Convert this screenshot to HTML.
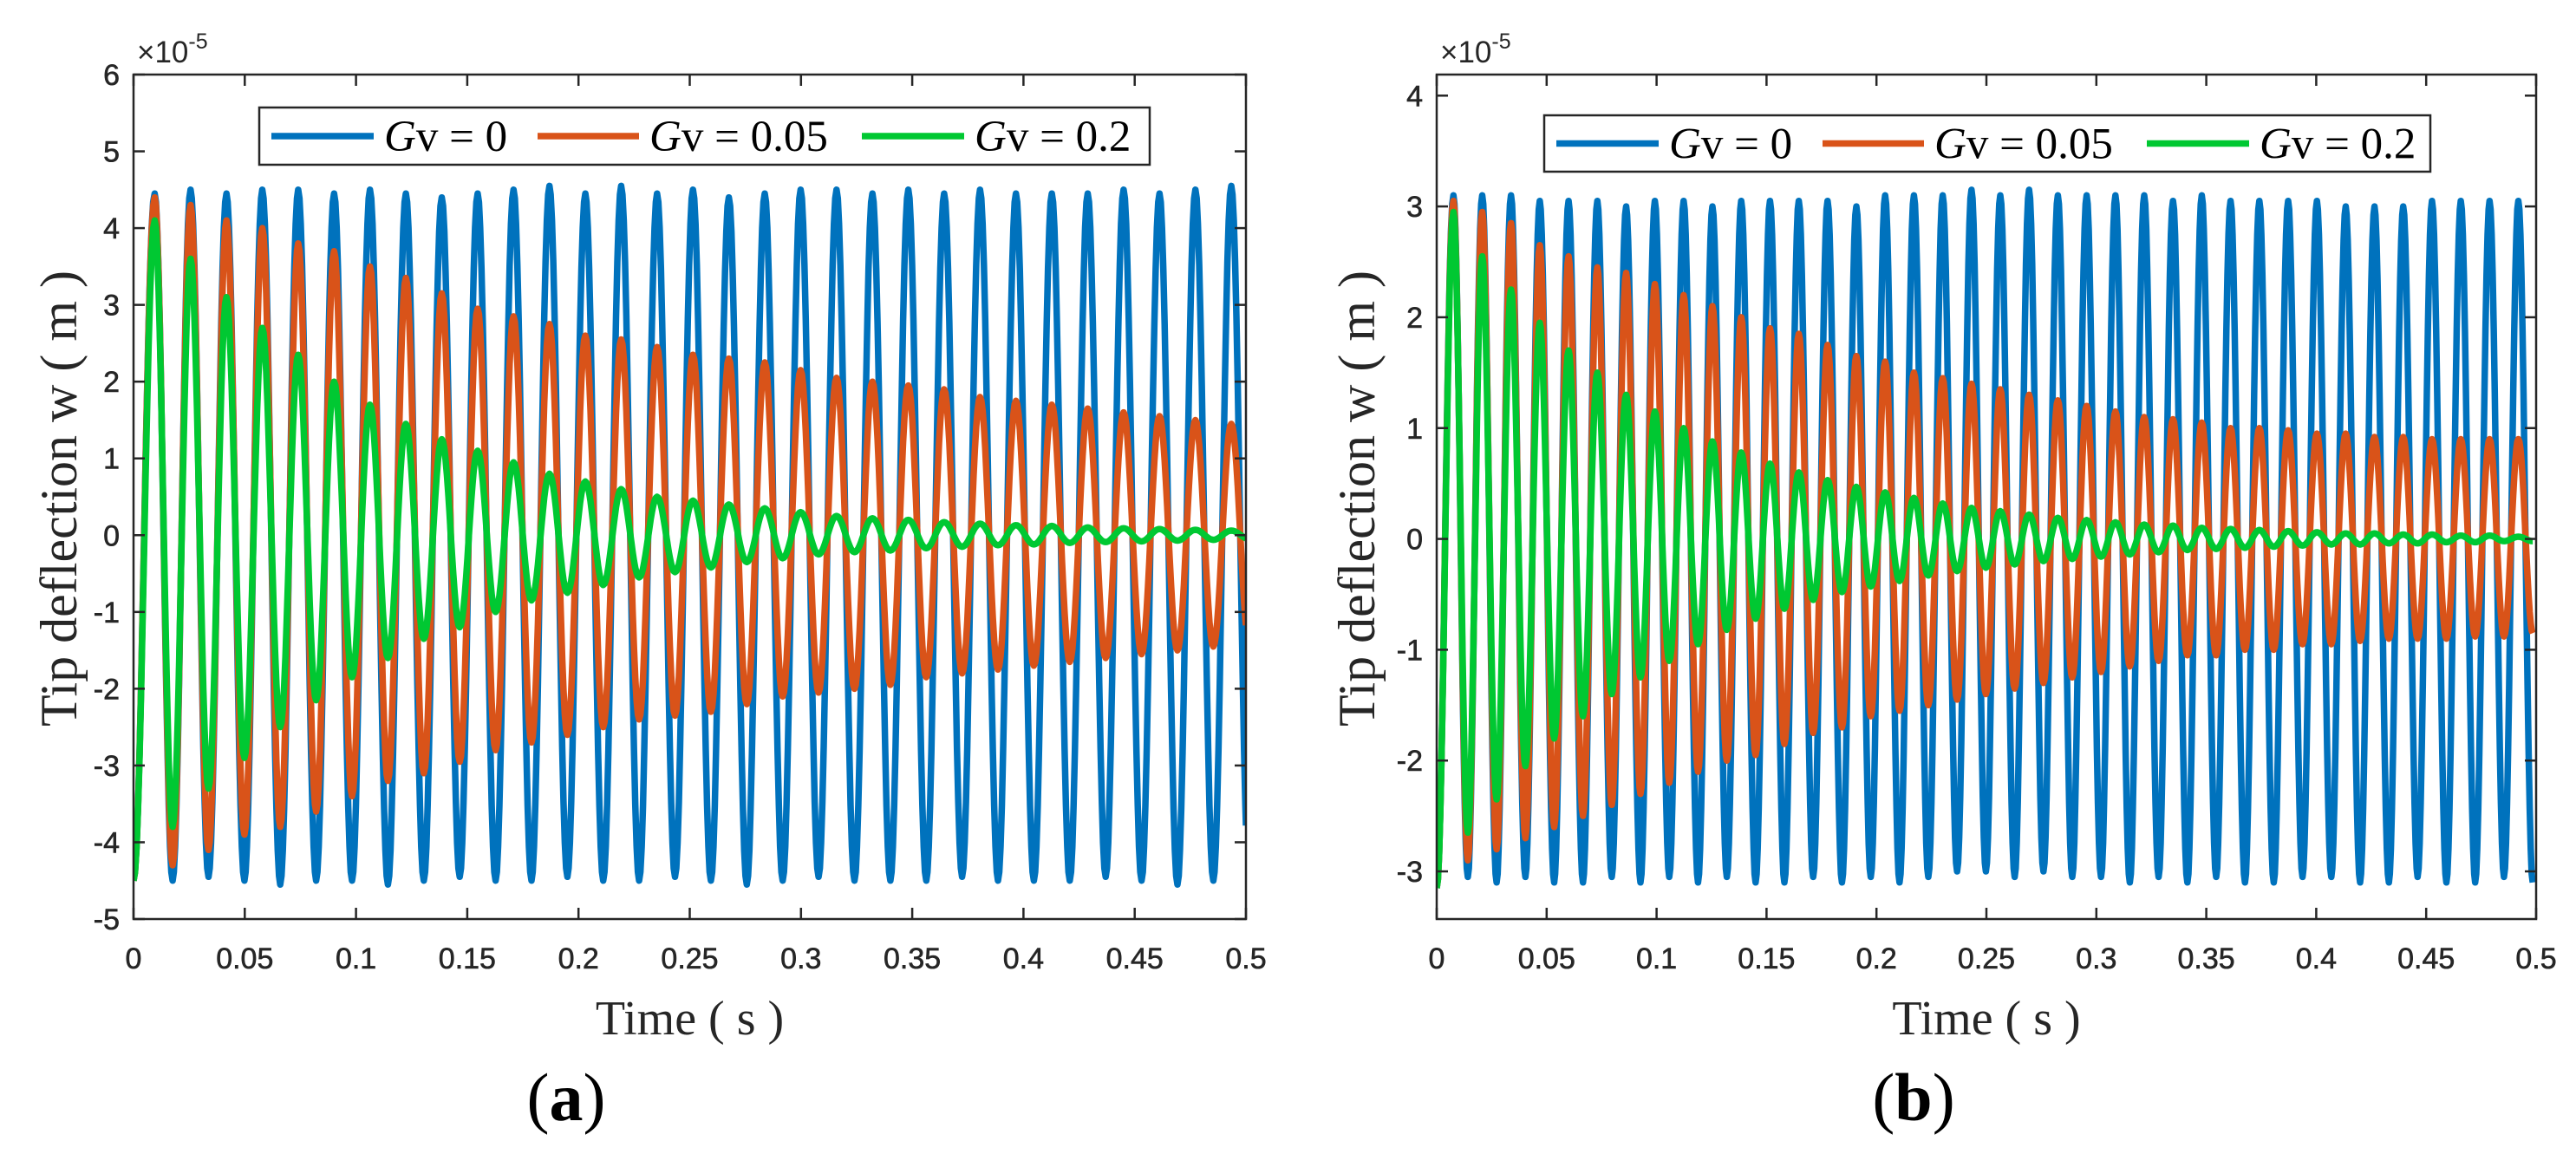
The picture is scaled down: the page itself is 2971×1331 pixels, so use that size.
<!DOCTYPE html>
<html><head><meta charset="utf-8"><style>
html,body{margin:0;padding:0;background:#fff;}
svg{display:block;}
</style></head><body>
<svg id="fig" width="2971" height="1331" viewBox="0 0 2971 1331" xmlns="http://www.w3.org/2000/svg"></svg>
<script>
// ---- Panel (a) data ----
const xTicksA = [0,0.05,0.1,0.15,0.2,0.25,0.3,0.35,0.4,0.45,0.5];
const xTickLabelsA = ["0","0.05","0.1","0.15","0.2","0.25","0.3","0.35","0.4","0.45","0.5"];
const yTicksA = [-5,-4,-3,-2,-1,0,1,2,3,4,5,6];
const periodA = 0.01613;
const firstPeakA = 0.0095;
const startA = [-4.5,-4.5,-4.5];
const blueA_peaks = [4.45,4.5,4.45,4.5,4.5,4.45,4.5,4.45,4.4,4.45,4.5,4.55,4.45,4.55,4.45,4.5,4.4,4.45,4.5,4.5,4.45,4.5,4.45,4.5,4.45,4.45,4.45,4.5,4.45,4.5,4.55];
const blueA_troughs = [-4.5,-4.45,-4.5,-4.55,-4.5,-4.5,-4.55,-4.5,-4.45,-4.5,-4.5,-4.45,-4.5,-4.5,-4.45,-4.5,-4.55,-4.5,-4.45,-4.5,-4.5,-4.5,-4.45,-4.5,-4.5,-4.5,-4.45,-4.5,-4.55,-4.5,-4.5];
const orangeA_peaks = [4.4,4.3,4.1,4.0,3.8,3.7,3.5,3.35,3.15,2.95,2.85,2.75,2.6,2.55,2.45,2.35,2.3,2.25,2.15,2.05,2.0,1.95,1.9,1.8,1.75,1.7,1.65,1.6,1.55,1.5,1.45];
const orangeA_troughs = [-4.3,-4.1,-3.9,-3.8,-3.6,-3.4,-3.2,-3.1,-2.95,-2.8,-2.7,-2.6,-2.5,-2.4,-2.35,-2.3,-2.2,-2.1,-2.05,-2.0,-1.95,-1.85,-1.8,-1.75,-1.7,-1.65,-1.6,-1.55,-1.5,-1.45,-1.4];
const greenA_peaks = [4.1,3.6,3.1,2.7,2.35,2.0,1.7,1.45,1.25,1.1,0.95,0.8,0.7,0.6,0.5,0.45,0.4,0.35,0.3,0.25,0.22,0.2,0.17,0.15,0.13,0.12,0.1,0.09,0.08,0.07,0.06];
const greenA_troughs = [-3.8,-3.3,-2.9,-2.5,-2.15,-1.85,-1.6,-1.35,-1.2,-1.0,-0.85,-0.75,-0.65,-0.55,-0.48,-0.42,-0.35,-0.3,-0.25,-0.22,-0.2,-0.17,-0.15,-0.13,-0.12,-0.1,-0.09,-0.08,-0.07,-0.06,-0.05];

// ---- Panel (b) data ----
const xTicksB = [0,0.05,0.1,0.15,0.2,0.25,0.3,0.35,0.4,0.45,0.5];
const xTickLabelsB = ["0","0.05","0.1","0.15","0.2","0.25","0.3","0.35","0.4","0.45","0.5"];
const yTicksB = [-3,-2,-1,0,1,2,3,4];
const periodB = 0.01309;
const firstPeakB = 0.0076;
const startB = [-3.15,-3.15,-3.15];
const blueB_peaks = [3.1,3.1,3.1,3.05,3.05,3.05,3.0,3.05,3.05,3.0,3.05,3.05,3.05,3.05,3.0,3.1,3.1,3.1,3.15,3.1,3.15,3.1,3.1,3.1,3.1,3.05,3.1,3.05,3.05,3.05,3.05,3.0,3.0,3.0,3.05,3.05,3.05,3.05];
const blueB_troughs = [-3.05,-3.1,-3.05,-3.1,-3.1,-3.05,-3.1,-3.05,-3.1,-3.05,-3.1,-3.1,-3.05,-3.1,-3.05,-3.1,-3.05,-3.0,-3.0,-3.05,-3.0,-3.05,-3.05,-3.1,-3.05,-3.1,-3.05,-3.1,-3.1,-3.05,-3.05,-3.1,-3.1,-3.05,-3.1,-3.1,-3.05,-3.1];
const orangeB_peaks = [3.05,2.95,2.85,2.65,2.55,2.45,2.4,2.3,2.2,2.1,2.0,1.9,1.85,1.75,1.65,1.6,1.5,1.45,1.4,1.35,1.3,1.25,1.2,1.15,1.1,1.08,1.05,1.0,1.0,0.98,0.95,0.95,0.92,0.92,0.9,0.9,0.9,0.9];
const orangeB_troughs = [-2.9,-2.8,-2.7,-2.6,-2.5,-2.4,-2.3,-2.2,-2.1,-2.0,-1.95,-1.85,-1.75,-1.7,-1.6,-1.55,-1.5,-1.45,-1.4,-1.35,-1.3,-1.25,-1.2,-1.15,-1.1,-1.05,-1.05,-1.0,-1.0,-0.95,-0.95,-0.92,-0.9,-0.9,-0.9,-0.88,-0.88,-0.85];
const greenB_peaks = [2.95,2.55,2.25,1.95,1.7,1.5,1.3,1.15,1.0,0.88,0.78,0.68,0.6,0.53,0.47,0.42,0.37,0.32,0.28,0.25,0.22,0.19,0.17,0.15,0.13,0.12,0.1,0.09,0.08,0.07,0.06,0.05,0.05,0.04,0.04,0.03,0.03,0.02];
const greenB_troughs = [-2.65,-2.35,-2.05,-1.8,-1.6,-1.4,-1.25,-1.1,-0.95,-0.82,-0.72,-0.63,-0.55,-0.48,-0.43,-0.38,-0.33,-0.29,-0.26,-0.23,-0.2,-0.18,-0.16,-0.14,-0.12,-0.1,-0.09,-0.08,-0.07,-0.06,-0.05,-0.05,-0.04,-0.04,-0.03,-0.03,-0.02,-0.02];

const seriesNames = ["Gv = 0","Gv = 0.05","Gv = 0.2"];
const seriesValues = ["0","0.05","0.2"];
const colors = ["#0072BD","#D95319","#00C832"];

const NS = "http://www.w3.org/2000/svg";
const svg = document.getElementById("fig");
function mk(tag, attrs, parent){
  const e = document.createElementNS(NS, tag);
  for (const k in attrs) e.setAttribute(k, attrs[k]);
  (parent||svg).appendChild(e);
  return e;
}

function buildPath(sx, sy, start, firstPeak, period, peaks, troughs, tEnd){
  const ext = [[0, start]];
  for (let k=0;k<peaks.length;k++){
    ext.push([firstPeak + k*period, peaks[k]]);
    if (k < troughs.length) ext.push([firstPeak + (k+0.5)*period, troughs[k]]);
  }
  let d = "M" + sx(0).toFixed(1) + " " + sy(start).toFixed(1);
  for (let i=0;i<ext.length-1;i++){
    const [t0,v0] = ext[i], [t1,v1] = ext[i+1];
    const N = 14;
    let stop = false;
    for (let j=1;j<=N;j++){
      let t = t0 + (t1-t0)*j/N;
      if (t > tEnd){ t = tEnd; stop = true; }
      const ff = (t-t0)/(t1-t0);
      const v = v0 + (v1-v0)*(1-Math.cos(Math.PI*ff))/2;
      d += "L" + sx(t).toFixed(1) + " " + sy(v).toFixed(1);
      if (stop) break;
    }
    if (stop) break;
  }
  return d;
}

function panel(cfg){
  const g = mk("g", {});
  
  
  const {L,R,T,B,ymin,ymax} = cfg;
  const sx = t => L + (t-0)/(0.5-0)*(R-L);
  const sy = v => B - (v-ymin)/(ymax-ymin)*(B-T);
  mk("rect",{x:L,y:T,width:R-L,height:B-T,fill:"#fff"},g);
  const clipId = cfg.name+"-clip";
  const cp = mk("clipPath",{id:clipId},g);
  mk("rect",{x:L,y:T,width:R-L,height:B-T},cp);
  const lines = mk("g",{"clip-path":"url(#"+clipId+")"},g);
  cfg.series.forEach((s,i)=>{
    const p = mk("path",{d:buildPath(sx,sy,cfg.start[i],cfg.firstPeak,cfg.period,s[0],s[1],0.5),fill:"none",stroke:colors[i],"stroke-width":7.5,"stroke-linejoin":"round"},lines);
    
    
  });
  const box = mk("rect",{x:L,y:T,width:R-L,height:B-T,fill:"none",stroke:"#262626","stroke-width":2.5},g);
  
  
  const tl = 13;
  cfg.xTicks.forEach((t,i)=>{
    const x = sx(t);
    mk("line",{x1:x,y1:B,x2:x,y2:B-tl,stroke:"#262626","stroke-width":2.5},g);
    mk("line",{x1:x,y1:T,x2:x,y2:T+tl,stroke:"#262626","stroke-width":2.5},g);
    const tx = mk("text",{x:x,y:B+57,"text-anchor":"middle","font-family":"Liberation Sans, sans-serif","font-size":34,fill:"#262626",stroke:"#262626","stroke-width":0.6},g);
    tx.textContent = cfg.xLabels[i];
    
    
  });
  cfg.yTicks.forEach(v=>{
    const y = sy(v);
    mk("line",{x1:L,y1:y,x2:L+tl,y2:y,stroke:"#262626","stroke-width":2.5},g);
    mk("line",{x1:R,y1:y,x2:R-tl,y2:y,stroke:"#262626","stroke-width":2.5},g);
    const tx = mk("text",{x:L-16,y:y+12,"text-anchor":"end","font-family":"Liberation Sans, sans-serif","font-size":34,fill:"#262626",stroke:"#262626","stroke-width":0.6},g);
    tx.textContent = String(v);
    
    
  });
  const ex = mk("text",{x:L+4,y:T-14,"font-family":"Liberation Sans, sans-serif","font-size":35,fill:"#262626"},g);
  ex.innerHTML = '×10<tspan dy="-16" font-size="25">-5</tspan>';
  
  
  const xt = mk("text",{x:(L+R)/2,y:1193,"text-anchor":"middle","font-family":"Liberation Serif, serif","font-size":56,fill:"#262626"},g);
  xt.textContent = "Time  ( s )";
  
  
  const yt = mk("text",{x:0,y:0,"text-anchor":"middle","font-family":"Liberation Serif, serif","font-size":60,fill:"#262626",transform:"translate("+(cfg.yTitleX)+","+(cfg.yTitleY)+") rotate(-90)"},g);
  yt.textContent = "Tip deflection  w ( m )";
  
  
  const lg = mk("g",{},g);
  
  
  const [lx,ly,lw,lh] = cfg.legend;
  mk("rect",{x:lx,y:ly,width:lw,height:lh,fill:"#fff",stroke:"#262626","stroke-width":2.5},lg);
  const offs = [[14,132,144],[321,438,450],[695,813,825]];
  const cy = ly+lh/2;
  seriesNames.forEach((n,i)=>{
    const e = mk("g",{},lg);
    
    
    mk("line",{x1:lx+offs[i][0],y1:cy,x2:lx+offs[i][1],y2:cy,stroke:colors[i],"stroke-width":7.5},e);
    const tx = mk("text",{x:lx+offs[i][2],y:cy+17,"font-family":"Liberation Serif, serif","font-size":51,fill:"#000"},e);
    tx.innerHTML = '<tspan font-style="italic">G</tspan>v = '+seriesValues[i];
  });
  const pl = mk("text",{x:cfg.labelX,y:1292,"text-anchor":"middle","font-family":"Liberation Serif, serif","font-size":78,fill:"#000"},g);
  pl.innerHTML = '(<tspan font-weight="bold">'+cfg.letter+'</tspan>)';
  
  
}

panel({name:"panel-a",L:154,R:1437,T:86,B:1060,ymin:-5,ymax:6,
  xTicks:xTicksA,xLabels:xTickLabelsA,yTicks:yTicksA,
  start:startA,firstPeak:firstPeakA,period:periodA,
  series:[[blueA_peaks,blueA_troughs],[orangeA_peaks,orangeA_troughs],[greenA_peaks,greenA_troughs]],
  legend:[299,124,1027,66],yTitleX:88,yTitleY:575,labelX:653,letter:"a"});
panel({name:"panel-b",L:1657,R:2925,T:86,B:1060,ymin:-3.43,ymax:4.19,
  xTicks:xTicksB,xLabels:xTickLabelsB,yTicks:yTicksB,
  start:startB,firstPeak:firstPeakB,period:periodB,
  series:[[blueB_peaks,blueB_troughs],[orangeB_peaks,orangeB_troughs],[greenB_peaks,greenB_troughs]],
  legend:[1781,133,1022,65],yTitleX:1585,yTitleY:575,labelX:2207,letter:"b"});
</script>
</body></html>
